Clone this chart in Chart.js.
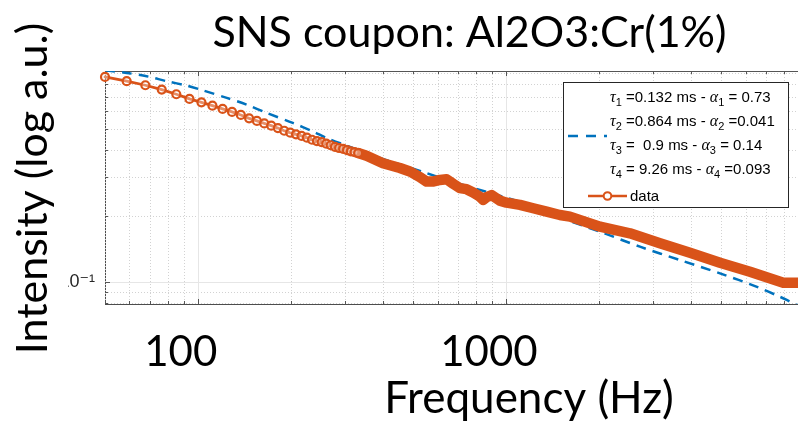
<!DOCTYPE html>
<html><head><meta charset="utf-8">
<script src="https://cdn.jsdelivr.net/npm/chart.js@4.4.1/dist/chart.umd.min.js"></script>
<style>
html,body{margin:0;padding:0;background:#fff;overflow:hidden;width:798px;height:422px}
#wrap{position:absolute;left:0;top:0;width:830px;height:422px}
</style></head>
<body><div id="wrap"><canvas id="c" width="830" height="422"></canvas></div>
<script>
// ---- data ----
const dataFreq = [50, 58.8, 67.6, 76.4, 85.2, 94, 102.8, 111.6, 120.4, 129.2, 138, 146.8, 155.6, 164.4, 173.2, 182, 190.8, 199.6, 208.4, 217.2, 226, 234.8, 243.6, 252.4, 261.2, 270, 278.8, 287.6, 296.4, 305.2, 314, 322.8, 331.6,
  353, 399, 453, 488, 526, 553, 579, 611, 642, 675, 709, 745, 783, 823, 844, 866, 899, 956, 1005, 1111, 1227, 1356, 1497, 1614, 2020, 2527, 3162, 3958, 4953, 6197, 7950, 8870, 9500];
const dataIntensity = [0.860, 0.822, 0.788, 0.753, 0.717, 0.683, 0.659, 0.636, 0.615, 0.596, 0.577, 0.557, 0.542, 0.528, 0.516, 0.503, 0.489, 0.479, 0.471, 0.463, 0.455, 0.445, 0.439, 0.434, 0.427, 0.420, 0.413, 0.408, 0.404, 0.399, 0.394, 0.391, 0.387,
  0.376, 0.348, 0.331, 0.319, 0.301, 0.287, 0.287, 0.292, 0.294, 0.280, 0.268, 0.265, 0.256, 0.245, 0.237, 0.244, 0.249, 0.235, 0.230, 0.2247, 0.217, 0.2094, 0.2022, 0.1987, 0.1789, 0.1669, 0.1502, 0.1361, 0.1225, 0.1114, 0.0993, 0.0993, 0.099];
const markerCount = 33; // individually visible markers at low frequency

const fitFreq = [50, 58.8, 68.3, 79.3, 92.1, 103.8, 124.2, 144.2, 167.5, 203.4, 236.2, 262.4, 304.7, 389.9, 525.9, 657.9, 887.1, 1110.5, 1290, 1497, 2020, 2723, 3672, 4953, 6530, 7756, 8872, 10000];
const fitIntensity = [0.922, 0.897, 0.866, 0.822, 0.785, 0.747, 0.690, 0.643, 0.589, 0.531, 0.486, 0.453, 0.418, 0.368, 0.321, 0.289, 0.255, 0.232, 0.217, 0.197, 0.1697, 0.145, 0.126, 0.1096, 0.0952, 0.0857, 0.0785, 0.074];

const fitIndex = ['1', '2', '3', '4'];
const fitTau = ['=0.132', '=0.864', '=  0.9', '= 9.26'];
const fitAlpha = ['= 0.73', '=0.041', '= 0.14', '=0.093'];
const dataLabel = 'data';

const xTickValues = [100, 1000];
const xTickLabels = ['100', '1000'];
const yTickValues = [0.1];
const yTickLabels = ['10\u207B\u00B9'];
const xGridMajor = [100, 1000, 10000];
const xGridMinor = [50, 60, 70, 80, 90, 200, 300, 400, 500, 600, 700, 800, 900, 2000, 3000, 4000, 5000, 6000, 7000, 8000, 9000];
const yGridMajor = [0.1];
const yGridMinor = [0.08, 0.09, 0.2, 0.3, 0.4, 0.5, 0.6, 0.7, 0.8, 0.9];

const titleText = 'SNS coupon: Al2O3:Cr(1%)';
const xTitleText = 'Frequency (Hz)';
const yTitleText = 'Intensity (log a.u.)';

// ---- styles ----
const ORANGE = '#D95319';
const BLUE = '#0072BD';
const BIG = 'Lato, "Open Sans", sans-serif';
const SMALL = '"Liberation Sans", "DejaVu Sans", sans-serif';

const decor = {
  id: 'decor',
  beforeDatasetsDraw(chart) {
    const {ctx, chartArea: a, scales: {x, y}} = chart;
    const L = (x1, y1, x2, y2) => { ctx.beginPath(); ctx.moveTo(x1, y1); ctx.lineTo(x2, y2); ctx.stroke(); };
    const px = v => Math.round(x.getPixelForValue(v)) + 0.5;
    const py = v => Math.round(y.getPixelForValue(v)) + 0.5;
    ctx.save();
    ctx.lineWidth = 1;
    ctx.strokeStyle = '#d2d2d2';
    ctx.setLineDash([1, 2]);
    xGridMinor.forEach(v => { const p = px(v); L(p, a.top, p, a.bottom); });
    yGridMinor.forEach(v => { const p = py(v); L(a.left, p, a.right, p); });
    ctx.setLineDash([]);
    ctx.strokeStyle = '#e6e6e6';
    xGridMajor.forEach(v => { const p = px(v); L(p, a.top, p, a.bottom); });
    yGridMajor.forEach(v => { const p = py(v); L(a.left, p, a.right, p); });
    // inward tick marks + top box line
    ctx.strokeStyle = '#555';
    xGridMinor.forEach(v => { const p = px(v); L(p, a.bottom, p, a.bottom - 3); L(p, a.top, p, a.top + 3); });
    xGridMajor.forEach(v => { const p = px(v); L(p, a.bottom, p, a.bottom - 5); L(p, a.top, p, a.top + 5); });
    yGridMinor.forEach(v => { const p = py(v); L(a.left, p, a.left + 3, p); });
    yGridMajor.forEach(v => { const p = py(v); L(a.left, p, a.left + 5, p); });
    L(a.left, Math.round(a.top) + 0.5, a.right, Math.round(a.top) + 0.5);
    ctx.restore();
  },
  afterDraw(chart) {
    const ctx = chart.ctx;
    ctx.save();
    // title
    ctx.fillStyle = '#000';
    ctx.font = '43px ' + BIG;
    ctx.textAlign = 'center';
    ctx.textBaseline = 'alphabetic';
    ctx.fillText(titleText, 469.5, 46.5);
    // x title
    ctx.font = '44px ' + BIG;
    ctx.fillText(xTitleText, 529, 413);
    // y title (overlay box with white background)
    ctx.fillStyle = '#fff';
    ctx.fillRect(0, 0, 68, 422);
    ctx.fillStyle = '#000';
    ctx.save();
    ctx.translate(47, 188.5);
    ctx.rotate(-Math.PI / 2);
    ctx.font = '43px ' + BIG;
    ctx.fillText(yTitleText, 0, 0);
    ctx.restore();

    // legend
    const bx = 563.5, by = 82.5, bw = 225, bh = 125;
    ctx.fillStyle = '#fff';
    ctx.fillRect(bx, by, bw, bh);
    ctx.strokeStyle = '#262626';
    ctx.lineWidth = 1;
    ctx.strokeRect(bx, by, bw, bh);
    ctx.textAlign = 'left';
    ctx.fillStyle = '#000';
    const drawRuns = (runs, x0, base) => {
      let xx = x0;
      runs.forEach(r => {
        ctx.font = r.f;
        ctx.fillText(r.t, xx, base + (r.dy || 0));
        xx += ctx.measureText(r.t).width;
      });
    };
    const greek = 'italic 16px "Liberation Serif", "DejaVu Serif", serif';
    const norm = '15px ' + SMALL;
    const sub = '11px ' + SMALL;
    for (let i = 0; i < 4; i++) {
      const base = 101.7 + i * 24.1;
      drawRuns([
        {t: '\u03C4', f: greek},
        {t: fitIndex[i], f: sub, dy: 4},
        {t: ' ' + fitTau[i] + ' ms - ', f: norm},
        {t: '\u03B1', f: greek},
        {t: fitIndex[i], f: sub, dy: 4},
        {t: ' ' + fitAlpha[i], f: norm}
      ], 610, base);
    }
    ctx.strokeStyle = BLUE;
    ctx.lineWidth = 2.5;
    ctx.setLineDash([10, 8]);
    ctx.beginPath(); ctx.moveTo(568, 136); ctx.lineTo(607, 136); ctx.stroke();
    ctx.setLineDash([]);
    ctx.strokeStyle = ORANGE;
    ctx.beginPath(); ctx.moveTo(588, 196); ctx.lineTo(627, 196); ctx.stroke();
    ctx.lineWidth = 2;
    ctx.fillStyle = '#fff';
    ctx.beginPath(); ctx.arc(607.5, 196, 3.8, 0, Math.PI * 2); ctx.fill(); ctx.stroke();
    ctx.fillStyle = '#000';
    ctx.font = norm;
    ctx.fillText(dataLabel, 630, 200.5);
    ctx.restore();
  }
};

new Chart(document.getElementById('c'), {
  type: 'line',
  data: {
    datasets: [
      {
        label: dataLabel,
        data: dataFreq.map((f, i) => ({x: f, y: dataIntensity[i]})),
        borderColor: ORANGE,
        borderWidth: 2.8,
        tension: 0,
        borderJoinStyle: 'round',
        borderCapStyle: 'round',
        pointRadius: ctx => ctx.dataIndex < markerCount ? 4 : 0,
        pointBorderWidth: 2.2,
        pointBorderColor: ORANGE,
        pointBackgroundColor: 'rgba(255,255,255,0.35)',
        segment: {
          borderWidth: ctx => ctx.p0DataIndex >= markerCount - 1 ? 10.5 : 2.8
        },
        clip: false
      },
      {
        label: 'fit',
        data: fitFreq.map((f, i) => ({x: f, y: fitIntensity[i]})),
        borderColor: BLUE,
        borderWidth: 2.5,
        borderDash: [10, 7],
        tension: 0.3,
        pointRadius: 0
      }
    ]
  },
  options: {
    responsive: false,
    animation: false,
    devicePixelRatio: 1,
    layout: {padding: {top: 71, right: 16, left: 0, bottom: 0}},
    plugins: {legend: {display: false}, tooltip: {enabled: false}, title: {display: false}},
    scales: {
      x: {
        type: 'logarithmic',
        min: 50, max: 10000,
        grid: {display: false, drawTicks: false},
        border: {display: true, color: '#4d4d4d', width: 1},
        afterBuildTicks: s => { s.ticks = xTickValues.map(v => ({value: v})); },
        afterFit: s => { s.height = 118; },
        ticks: {
          autoSkip: false, maxRotation: 0, padding: 23, labelOffset: -17,
          color: '#000', font: {family: BIG, size: 42},
          callback: v => { const i = xTickValues.indexOf(v); return i >= 0 ? xTickLabels[i] : ''; }
        }
      },
      y: {
        type: 'logarithmic',
        min: 0.0795, max: 0.915,
        grid: {display: false, drawTicks: false},
        border: {display: true, color: '#4d4d4d', width: 1},
        afterBuildTicks: s => { s.ticks = yTickValues.map(v => ({value: v})); },
        afterFit: s => { s.width = 105; },
        ticks: {
          autoSkip: false, padding: 10,
          color: '#262626', font: {family: SMALL, size: 18},
          callback: v => { const i = yTickValues.indexOf(v); return i >= 0 ? yTickLabels[i] : ''; }
        }
      }
    }
  },
  plugins: [decor]
});
</script>
</body></html>
